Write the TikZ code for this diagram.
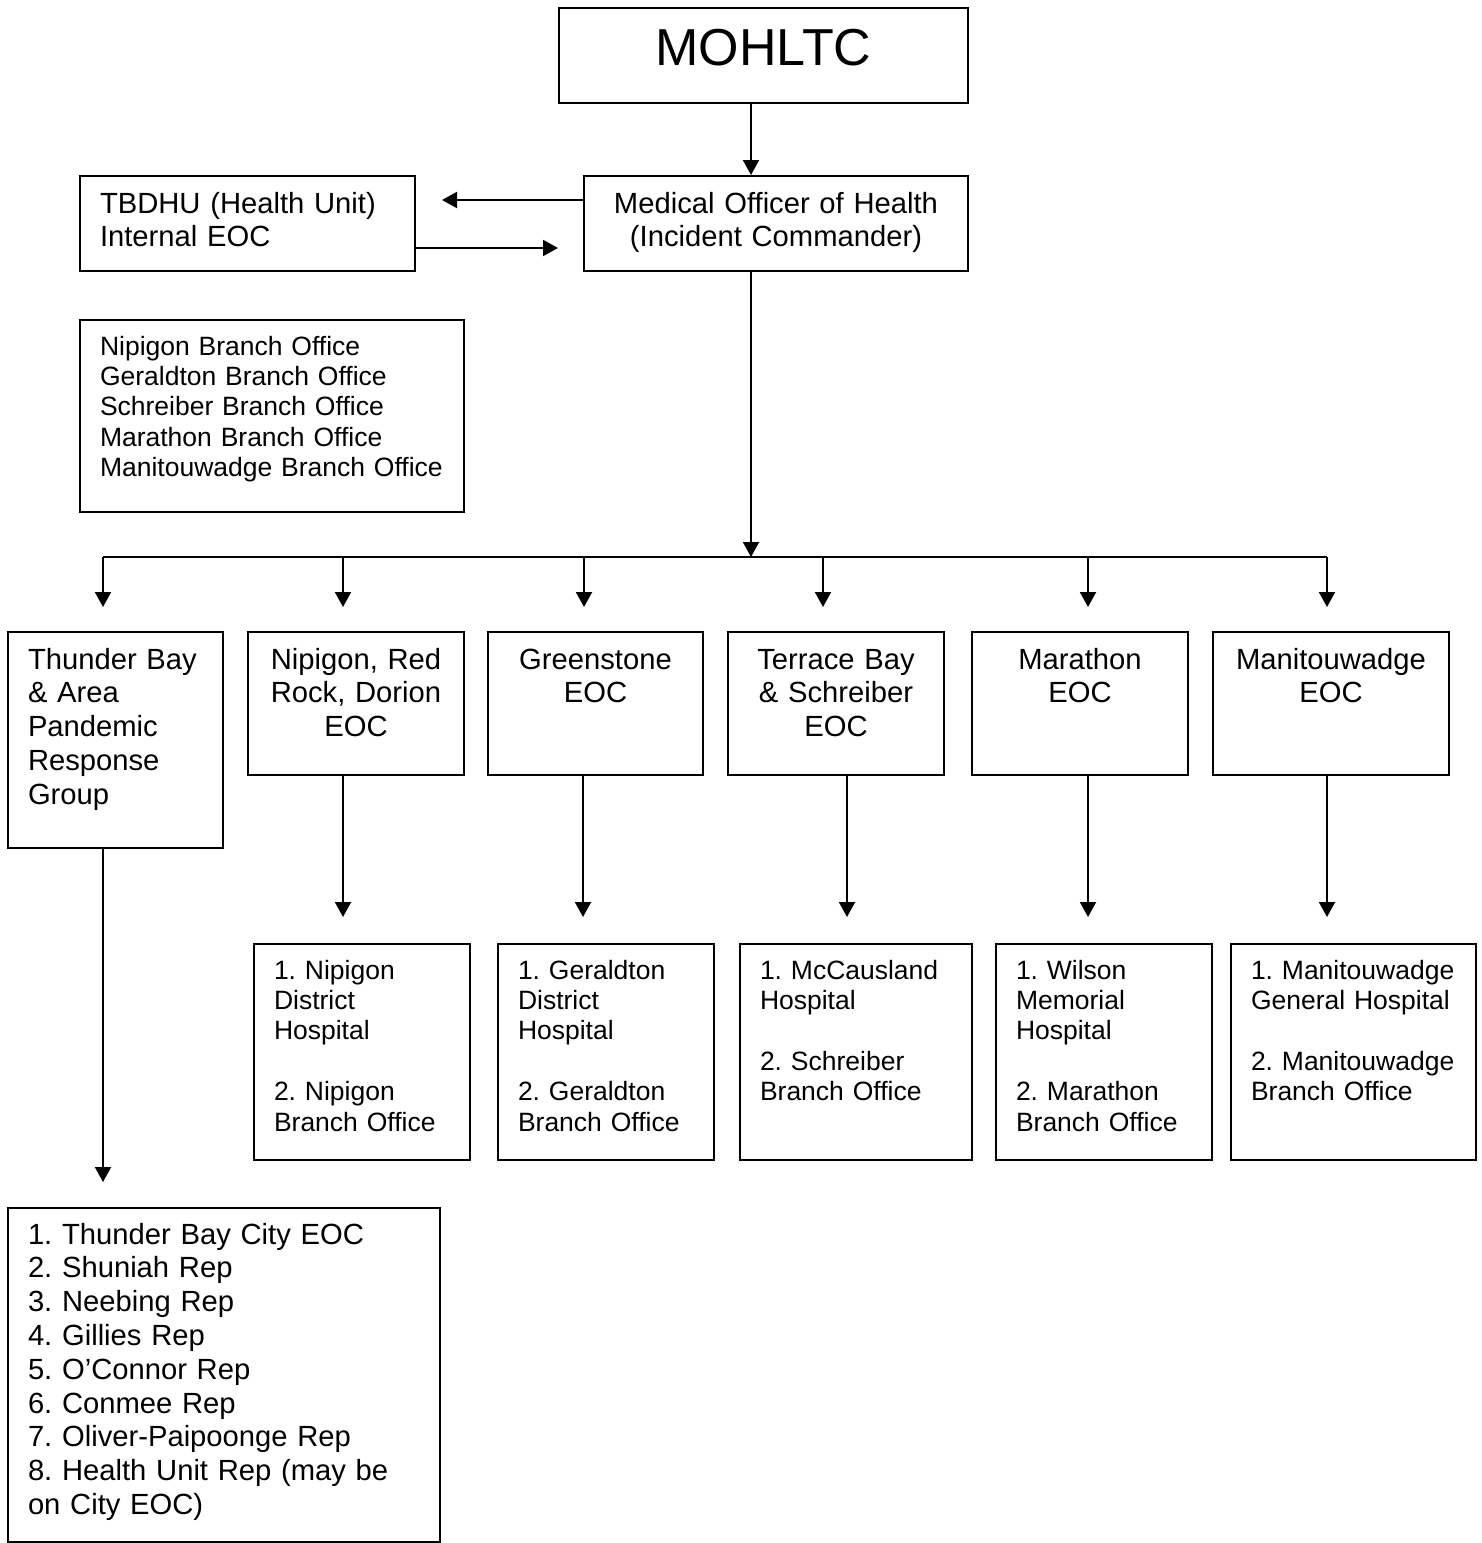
\documentclass[tikz,border=0pt]{standalone}
\usepackage{fontspec}
\setmainfont{Liberation Sans}
\usetikzlibrary{arrows.meta}
\frenchspacing
\hyphenpenalty=10000
\exhyphenpenalty=10000

\begin{document}
\begin{tikzpicture}[x=0.5pt, y=-0.5pt]
    \tikzstyle{proc} = [rectangle, draw=black, line width=1pt, anchor=north west, inner xsep=10pt, inner ysep=0pt]
    \tikzstyle{big} = [font=\fontsize{14.6}{16.9}\selectfont]
    \tikzstyle{small} = [font=\fontsize{13.25}{15.2}\selectfont]
    \tikzstyle{eoc} = [proc, big, text height=18.5pt, text depth=53pt, align=center]
    \tikzstyle{hosp} = [proc, small, text height=17.5pt, text depth=90.5pt, align=left]
    \tikzstyle{arrow} = [line width=1pt,->,>={Triangle[width=8pt,length=7.5pt]}]
    \useasboundingbox (0,0) rectangle (1482,1543);
    % top of the chart
    \node (mohltc) [proc, align=center, text width=184.5pt, text height=28.5pt, text depth=19pt, font=\fontsize{26}{30}\selectfont] at (558,7) {MOHLTC};
    \node (moh) [proc, big, align=center, text width=172pt, text height=18.5pt, text depth=29pt] at (583,175) {Medical Officer of Health\\(Incident Commander)};
    \node (tbdhu) [proc, big, align=left, text width=147.5pt, text height=18.5pt, text depth=29pt] at (79,175) {TBDHU (Health Unit)\\Internal EOC};
    \node (branch) [proc, small, align=left, text width=172pt, text height=17.5pt, text depth=78.5pt] at (79,319) {Nipigon Branch Office\\Geraldton Branch Office\\Schreiber Branch Office\\Marathon Branch Office\\Manitouwadge Branch Office};
    \coordinate (bus) at (751,557);
    % EOC row
    \node (tbarea) [proc, big, align=left, text width=87.5pt, text height=18.5pt, text depth=89.5pt] at (7,631) {Thunder Bay\\\& Area\\Pandemic\\Response\\Group};
    \node (nipeoc) [eoc, text width=88pt] at (247,631) {Nipigon, Red\\Rock, Dorion\\EOC};
    \node (greeneoc) [eoc, text width=87.5pt] at (487,631) {Greenstone\\EOC};
    \node (terreoc) [eoc, text width=88pt] at (727,631) {Terrace Bay\\\& Schreiber\\EOC};
    \node (mareoc) [eoc, text width=88pt] at (971,631) {Marathon\\EOC};
    \node (maneoc) [eoc, text width=98pt] at (1212,631) {Manitouwadge\\EOC};
    % hospitals and offices
    \node (niphosp) [hosp, text width=88pt] at (253,943) {1. Nipigon\\District\\Hospital\\[15.2pt]2. Nipigon\\Branch Office};
    \node (gerhosp) [hosp, text width=88pt] at (497,943) {1. Geraldton\\District\\Hospital\\[15.2pt]2. Geraldton\\Branch Office};
    \node (mchosp) [hosp, text width=96pt] at (739,943) {1. McCausland\\Hospital\\[15.2pt]2. Schreiber\\Branch Office};
    \node (wilhosp) [hosp, text width=88pt] at (995,943) {1. Wilson\\Memorial\\Hospital\\[15.2pt]2. Marathon\\Branch Office};
    \node (manhosp) [hosp, text width=102.5pt] at (1230,943) {1. Manitouwadge\\General Hospital\\[15.2pt]2. Manitouwadge\\Branch Office};
    \node (tblist) [proc, big, align=left, text width=196pt, text height=18pt, text depth=149pt] at (7,1207) {1. Thunder Bay City EOC\\2. Shuniah Rep\\3. Neebing Rep\\4. Gillies Rep\\5. O’Connor Rep\\6. Conmee Rep\\7. Oliver-Paipoonge Rep\\8. Health Unit Rep (may be\\on City EOC)};
    % connectors
    \draw[arrow] (mohltc.south -| bus) -- (moh.north -| bus);
    \draw[arrow, shorten >=13pt] ([yshift=11.75pt]moh.west) -- ([yshift=11.75pt]moh.west -| tbdhu.east);
    \draw[arrow, shorten >=12.5pt] ([yshift=-12.25pt]tbdhu.east) -- ([yshift=-12.25pt]tbdhu.east -| moh.west);
    \draw[arrow] (moh.south -| bus) -- (bus);
    \draw[line width=1pt] (bus -| 103,0) -- (bus -| 1327,0);
    \foreach \n/\x in {tbarea/103, nipeoc/343, greeneoc/584, terreoc/823, mareoc/1088, maneoc/1327}
      \draw[arrow, shorten >=12pt] (bus -| \x,0) -- (\n.north -| \x,0);
    \foreach \a/\b/\x in {nipeoc/niphosp/343, greeneoc/gerhosp/583, terreoc/mchosp/847, mareoc/wilhosp/1088, maneoc/manhosp/1327}
      \draw[arrow, shorten >=13pt] (\a.south -| \x,0) -- (\b.north -| \x,0);
    \draw[arrow, shorten >=12.5pt] (tbarea.south -| 103,0) -- (tblist.north -| 103,0);
\end{tikzpicture}
\end{document}
